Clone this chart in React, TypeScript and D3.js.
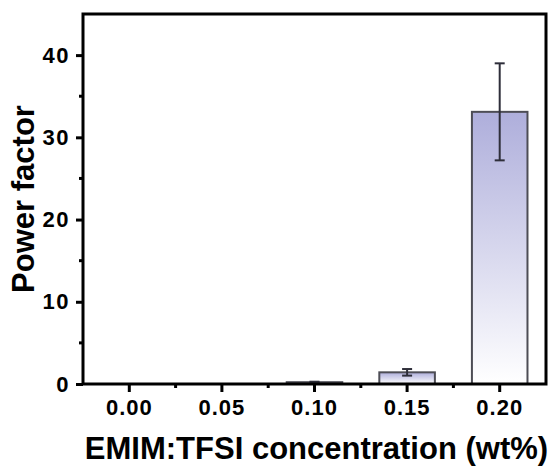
import { useRef, useEffect } from 'react';
import * as d3 from 'd3';

const WIDTH = 552;
const HEIGHT = 468;

const concentrations = ['0.00', '0.05', '0.10', '0.15', '0.20'];
const powerFactor = [0.01, 0.02, 0.22, 1.42, 33.1];
const powerError = [0, 0, 0.06, 0.4, 5.9];
const yTicks = [0, 10, 20, 30, 40];
const yMinorTicks = [5, 15, 25, 35];

const FONT = '"Liberation Sans", Arial, sans-serif';

const App = () => {
  const svgRef = useRef<SVGSVGElement>(null);

  useEffect(() => {
    const svg = d3.select(svgRef.current);
    svg.selectAll('*').remove(); // Clear existing content

    const margin = { top: 14, right: 6, bottom: 84, left: 83 };
    const left = margin.left;
    const right = WIDTH - margin.right;
    const top = margin.top;
    const bottom = HEIGHT - margin.bottom;

    const x = d3.scaleBand<string>()
      .domain(concentrations)
      .range([left, right])
      .paddingInner(0.4)
      .paddingOuter(0.2);
    const y = d3.scaleLinear().domain([0, 45]).range([bottom, top]);

    const defs = svg.append('defs');
    const grad = defs.append('linearGradient')
      .attr('id', 'barGrad')
      .attr('x1', 0).attr('y1', 0)
      .attr('x2', 0).attr('y2', 1);
    grad.append('stop').attr('offset', '0%').attr('stop-color', '#aeaedb');
    grad.append('stop').attr('offset', '100%').attr('stop-color', '#ffffff');

    // bars
    const data = concentrations.map((c, i) => ({ c, v: powerFactor[i], e: powerError[i] }));

    svg.append('g')
      .selectAll('rect')
      .data(data.filter(d => y(0) - y(d.v) >= 0.5))
      .join('rect')
      .attr('x', d => x(d.c)!)
      .attr('y', d => y(d.v))
      .attr('width', x.bandwidth())
      .attr('height', d => y(0) - y(d.v))
      .attr('fill', 'url(#barGrad)')
      .attr('stroke', '#4d4d55')
      .attr('stroke-width', 2);

    // error bars
    const eb = svg.append('g')
      .attr('stroke', '#2e2e3a')
      .attr('stroke-width', 2)
      .selectAll('g')
      .data(data.filter(d => d.e > 0))
      .join('g');
    const cx = (d: { c: string }) => x(d.c)! + x.bandwidth() / 2;
    eb.append('line')
      .attr('x1', cx).attr('x2', cx)
      .attr('y1', d => y(d.v + d.e))
      .attr('y2', d => y(Math.max(0, d.v - d.e)));
    eb.append('line')
      .attr('x1', d => cx(d) - 5).attr('x2', d => cx(d) + 5)
      .attr('y1', d => y(d.v + d.e)).attr('y2', d => y(d.v + d.e));
    eb.append('line')
      .attr('x1', d => cx(d) - 5).attr('x2', d => cx(d) + 5)
      .attr('y1', d => y(Math.max(0, d.v - d.e))).attr('y2', d => y(Math.max(0, d.v - d.e)));

    // frame
    svg.append('rect')
      .attr('x', left).attr('y', top)
      .attr('width', right - left).attr('height', bottom - top)
      .attr('fill', 'none')
      .attr('stroke', '#000')
      .attr('stroke-width', 3);

    // x axis
    const xAxis = svg.append('g')
      .attr('transform', `translate(0,${bottom})`)
      .call(d3.axisBottom(x).tickSizeInner(8).tickSizeOuter(0).tickPadding(7));
    xAxis.select('.domain').remove();
    xAxis.selectAll('line').attr('stroke-width', 3);
    xAxis.selectAll('text')
      .attr('font-family', FONT)
      .attr('font-weight', 'bold')
      .attr('font-size', 22)
      .attr('letter-spacing', 1)
      .attr('fill', '#000');

    const step = x.step();
    svg.append('g')
      .selectAll('line')
      .data(concentrations.slice(0, -1))
      .join('line')
      .attr('x1', d => x(d)! + x.bandwidth() / 2 + step / 2)
      .attr('x2', d => x(d)! + x.bandwidth() / 2 + step / 2)
      .attr('y1', bottom)
      .attr('y2', bottom + 4)
      .attr('stroke', '#000')
      .attr('stroke-width', 3);

    // y axis
    const yAxis = svg.append('g')
      .attr('transform', `translate(${left},0)`)
      .call(d3.axisLeft(y).tickValues(yTicks).tickSizeInner(7).tickSizeOuter(0).tickPadding(6));
    yAxis.select('.domain').remove();
    yAxis.selectAll('line').attr('stroke-width', 3);
    yAxis.selectAll('text')
      .attr('font-family', FONT)
      .attr('font-weight', 'bold')
      .attr('font-size', 22)
      .attr('letter-spacing', 1.5)
      .attr('fill', '#000');

    svg.append('g')
      .selectAll('line')
      .data(yMinorTicks)
      .join('line')
      .attr('x1', left - 4)
      .attr('x2', left)
      .attr('y1', d => y(d))
      .attr('y2', d => y(d))
      .attr('stroke', '#000')
      .attr('stroke-width', 3);

    // axis titles
    svg.append('text')
      .attr('x', (left + right) / 2 + 2)
      .attr('y', 459)
      .attr('text-anchor', 'middle')
      .attr('font-family', FONT)
      .attr('font-weight', 'bold')
      .attr('font-size', 31)
      .text('EMIM:TFSI concentration (wt%)');

    svg.append('text')
      .attr('transform', `translate(34,${(top + bottom) / 2}) rotate(-90)`)
      .attr('text-anchor', 'middle')
      .attr('font-family', FONT)
      .attr('font-weight', 'bold')
      .attr('font-size', 31)
      .text('Power factor');
  }, []);

  return (
    <svg
      ref={svgRef}
      width={WIDTH}
      height={HEIGHT}
      style={{ position: 'absolute', left: 0, top: 0, background: '#fff' }}
    ></svg>
  );
};

export default App;
